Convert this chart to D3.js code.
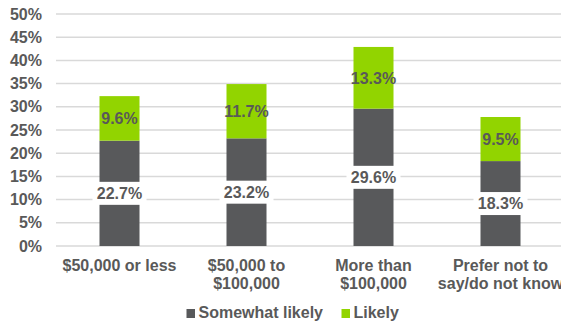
<!DOCTYPE html>
<html><head><meta charset="utf-8">
<script src="https://cdn.jsdelivr.net/npm/d3@7"></script>
<style>body{margin:0;background:#fff}svg{display:block}text{font-family:"Liberation Sans",Arial,sans-serif;font-weight:bold;fill:#595959}</style>
</head><body>
<svg id="c" width="561" height="324"></svg>
<script>
const categories = [["$50,000 or less"], ["$50,000 to", "$100,000"], ["More than", "$100,000"], ["Prefer not to", "say/do not know"]];
const somewhat = [22.7, 23.2, 29.6, 18.3];
const likely = [9.6, 11.7, 13.3, 9.5];
const yTicks = [0, 5, 10, 15, 20, 25, 30, 35, 40, 45, 50];
const seriesNames = ["Somewhat likely", "Likely"];
const colors = ["#58595B", "#92D400"];

const FS = 16;
const svg = d3.select("#c");
const y = d3.scaleLinear().domain([0, 50]).range([246, 14]);
const x = d3.scaleBand().domain(d3.range(categories.length)).range([56, 564]).paddingInner(0.685).paddingOuter(0.3425);

// gridlines
svg.append("g").selectAll("line").data(yTicks).join("line")
  .attr("x1", 56).attr("x2", 561).attr("y1", d => y(d)).attr("y2", d => y(d))
  .attr("stroke", "#D9D9D9").attr("stroke-width", 1.5);

// y axis labels
const yAxis = d3.axisLeft(y).tickValues(yTicks).tickFormat(d => d + "%").tickSize(0).tickPadding(0);
const ga = svg.append("g").attr("transform", "translate(42,0)").call(yAxis);
ga.select(".domain").remove();
ga.selectAll("text").attr("font-size", FS).attr("fill", "#595959").attr("font-family", '"Liberation Sans",Arial,sans-serif').attr("font-weight", "bold");

const data = categories.map((c, i) => ({i, s: somewhat[i], l: likely[i]}));

// bars
svg.append("g").selectAll("rect").data(data).join("rect")
  .attr("x", d => x(d.i)).attr("width", x.bandwidth())
  .attr("y", d => y(d.s)).attr("height", d => y(0) - y(d.s)).attr("fill", colors[0]);
svg.append("g").selectAll("rect").data(data).join("rect")
  .attr("x", d => x(d.i)).attr("width", x.bandwidth())
  .attr("y", d => y(d.s + d.l)).attr("height", d => y(d.s) - y(d.s + d.l)).attr("fill", colors[1]);

// labels for somewhat (white box)
const lg = svg.append("g").selectAll("g").data(data).join("g")
  .attr("transform", d => `translate(${x(d.i) + x.bandwidth() / 2},${y(d.s / 2)})`);
lg.append("rect").attr("x", -27).attr("y", -11.5).attr("width", 54).attr("height", 23).attr("fill", "#fff");
lg.append("text").attr("text-anchor", "middle").attr("dy", "0.36em").attr("font-size", FS).text(d => d.s.toFixed(1) + "%");

svg.append("g").selectAll("text").data(data).join("text")
  .attr("x", d => x(d.i) + x.bandwidth() / 2).attr("y", d => y(d.s + d.l / 2))
  .attr("text-anchor", "middle").attr("dy", "0.36em").attr("font-size", FS)
  .text(d => d.l.toFixed(1) + "%");

// category labels
const cl = svg.append("g").selectAll("text").data(data).join("text")
  .attr("x", d => x(d.i) + x.bandwidth() / 2).attr("y", 271)
  .attr("text-anchor", "middle").attr("font-size", FS);
cl.selectAll("tspan").data(d => categories[d.i].map(t => ({t, xx: x(d.i) + x.bandwidth() / 2}))).join("tspan")
  .attr("x", d => d.xx).attr("dy", (d, k) => k === 0 ? 0 : 18).text(d => d.t);

// legend
const legendX = [186.5, 341.5];
const lgd = svg.append("g").selectAll("g").data(seriesNames).join("g")
  .attr("transform", (d, i) => `translate(${legendX[i]},318)`);
lgd.append("rect").attr("x", 0).attr("y", -9).attr("width", 8.5).attr("height", 9).attr("fill", (d, i) => colors[i]);
lgd.append("text").attr("x", 12).attr("font-size", FS).text(d => d);
</script>
</body></html>
